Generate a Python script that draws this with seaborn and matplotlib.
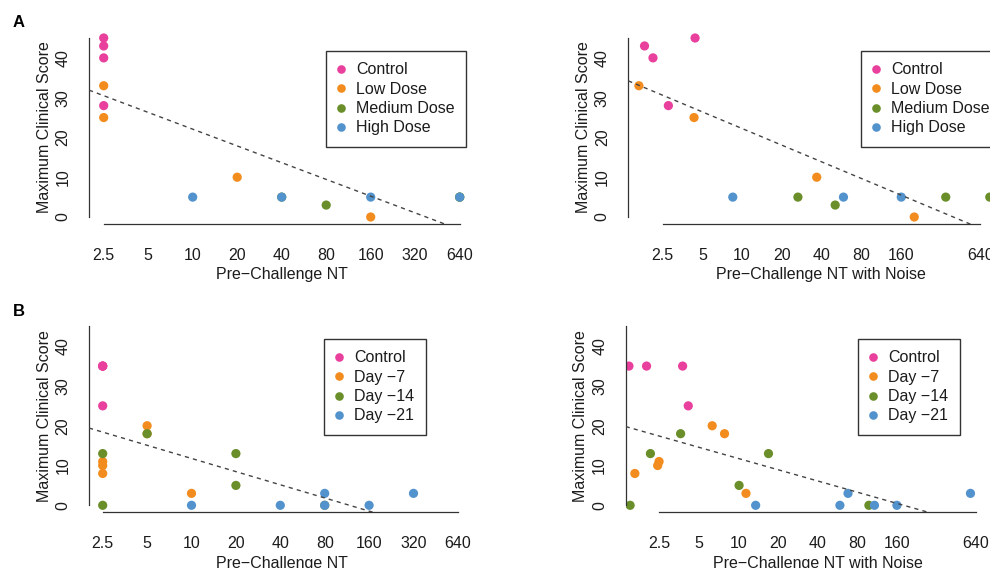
import numpy as np
import pandas as pd
import matplotlib
matplotlib.use("Agg")
import matplotlib.pyplot as plt
from matplotlib.lines import Line2D
import seaborn as sns

sns.set_style("white")
plt.rcParams["font.family"] = ["Liberation Sans", "DejaVu Sans"]

M = "\u2212"

# ---------------- Panel A data ----------------
a_groups = ["Control", "Low Dose", "Medium Dose", "High Dose"]
a_ctrl_nt = [2.5, 2.5, 2.5, 2.5]
a_ctrl_score = [45, 43, 40, 28]
a_ctrl_noise = [4.4, 1.82, 2.11, 2.76]
a_low_nt = [2.5, 2.5, 20, 160]
a_low_score = [33, 25, 10, 0]
a_low_noise = [1.65, 4.32, 36.8, 202]
a_med_nt = [80, 40, 640, 640]
a_med_score = [3, 5, 5, 5]
a_med_noise = [50.8, 26.5, 350, 755]
a_high_nt = [10, 40, 160, 640]
a_high_score = [5, 5, 5, 5]
a_high_noise = [8.5, 58.7, 161, 1000]

# ---------------- Panel B data ----------------
b_groups = ["Control", f"Day {M}7", f"Day {M}14", f"Day {M}21"]
b_ctrl_nt = [2.5, 2.5, 2.5, 2.5]
b_ctrl_score = [35, 35, 35, 25]
b_ctrl_noise = [1.47, 2.0, 3.76, 4.15]
b_d7_nt = [2.5, 2.5, 2.5, 5, 5, 10]
b_d7_score = [8, 10, 11, 20, 18, 3]
b_d7_noise = [1.63, 2.43, 2.49, 6.31, 7.83, 11.4]
b_d14_nt = [2.5, 2.5, 5, 20, 20, 80]
b_d14_score = [0, 13, 18, 5, 13, 0]
b_d14_noise = [1.50, 2.14, 3.63, 10.1, 16.9, 98]
b_d21_nt = [10, 40, 80, 80, 160, 320]
b_d21_score = [0, 0, 3, 0, 0, 3]
b_d21_noise = [13.5, 59, 68, 108, 160, 580]

# fitted trend lines: (score at NT=2.5, change per doubling of NT)
fit_a = (30.5, -4.21)
fit_a_noise = (30.6, -4.18)
fit_b = (18.4, -3.31)
fit_b_noise = (17.4, -2.82)

x_ticks = [2.5, 5, 10, 20, 40, 80, 160, 320, 640]
y_ticks = [0, 5, 10, 15, 20, 25, 30, 35, 40, 45]
y_ticklabels = ["0", "", "10", "", "20", "", "30", "", "40", ""]

colors = ["#E8409C", "#F28C1E", "#6A8E2A", "#5393CD"]


def make_df(groups, nts, scores):
    rows = []
    for g, n, s in zip(groups, nts, scores):
        for xv, yv in zip(n, s):
            rows.append((g, xv, yv))
    return pd.DataFrame(rows, columns=["group", "nt", "score"])


dfA = make_df(a_groups, [a_ctrl_nt, a_low_nt, a_med_nt, a_high_nt],
              [a_ctrl_score, a_low_score, a_med_score, a_high_score])
dfA_n = make_df(a_groups, [a_ctrl_noise, a_low_noise, a_med_noise, a_high_noise],
                [a_ctrl_score, a_low_score, a_med_score, a_high_score])
dfB = make_df(b_groups, [b_ctrl_nt, b_d7_nt, b_d14_nt, b_d21_nt],
              [b_ctrl_score, b_d7_score, b_d14_score, b_d21_score])
dfB_n = make_df(b_groups, [b_ctrl_noise, b_d7_noise, b_d14_noise, b_d21_noise],
                [b_ctrl_score, b_d7_score, b_d14_score, b_d21_score])

W, H = 990, 568
fig = plt.figure(figsize=(W / 100, H / 100), dpi=100)

FS = 11.5
TXT = "#1c1c1c"
AX = "#333333"
Y0, Y1 = -1.8, 46.8
PXU = 3.978  # pixels per score unit


def panel(df, groups, fit, xlabel, zero_y, x25, sp, left_px, right_px,
          leg_xy, drop_labels=()):
    top_px = zero_y - Y1 * PXU
    bot_px = zero_y - Y0 * PXU
    ax = fig.add_axes([left_px / W, 1 - bot_px / H,
                       (right_px - left_px) / W, (bot_px - top_px) / H])
    pal = dict(zip(groups, colors))
    sns.scatterplot(data=df, x="nt", y="score", hue="group", hue_order=groups,
                    palette=pal, s=44, linewidth=0, legend=False, ax=ax,
                    zorder=2, clip_on=True)
    ax.set_xscale("log", base=2)
    xlo = 2.5 * 2 ** ((left_px - x25) / sp)
    xhi = 2.5 * 2 ** ((right_px - x25) / sp)
    ax.set_xlim(xlo, xhi)
    ax.set_ylim(Y0, Y1)
    xs = np.geomspace(xlo, xhi, 200)
    ax.plot(xs, fit[0] + fit[1] * np.log2(xs / 2.5), color="#444444",
            lw=1.0, dashes=(3, 3), zorder=3)
    ax.set_xticks(x_ticks)
    ax.set_xticklabels(["" if t in drop_labels else (f"{t:g}") for t in x_ticks])
    ax.minorticks_off()
    ax.set_yticks(y_ticks)
    ax.set_yticklabels(y_ticklabels, rotation=90, va="center")
    ax.tick_params(axis="both", direction="out", length=6.5, width=0.9,
                   color=AX, labelsize=FS, labelcolor=TXT)
    ax.tick_params(axis="x", pad=10.5)
    ax.tick_params(axis="y", pad=6.8)
    for s in ["top", "right"]:
        ax.spines[s].set_visible(False)
    for s in ["left", "bottom"]:
        ax.spines[s].set_color(AX)
        ax.spines[s].set_linewidth(0.9)
    ax.spines["left"].set_bounds(0, 45)
    ax.spines["bottom"].set_bounds(2.5, 640)
    ax.set_xlabel(xlabel, fontsize=FS, color=TXT, labelpad=3.2)
    ax.set_ylabel("Maximum Clinical Score", fontsize=FS, color=TXT, labelpad=2.7)
    ax.grid(False)
    handles = [Line2D([], [], ls="none", marker="o", markersize=6.2,
                      markerfacecolor=c, markeredgewidth=0) for c in colors]
    leg = ax.legend(handles, groups, loc="upper left",
                    bbox_to_anchor=(leg_xy[0] / W, 1 - leg_xy[1] / H),
                    bbox_transform=fig.transFigure, borderaxespad=0,
                    fontsize=FS, frameon=True, fancybox=False, shadow=False,
                    borderpad=0.72, labelspacing=0.27, handlelength=0.4,
                    handletextpad=0.78, framealpha=1)
    for t in leg.get_texts():
        t.set_color(TXT)
    fr = leg.get_frame()
    fr.set_edgecolor(AX)
    fr.set_linewidth(1.0)
    return ax


panel(dfA, a_groups, fit_a, f"Pre{M}Challenge NT", 217, 103.7, 44.5, 89, 474,
      (326, 51))
panel(dfA_n, a_groups, fit_a_noise, f"Pre{M}Challenge NT with Noise", 217, 662.7,
      39.7, 628.3, 1013, (861, 51), drop_labels=(320,))
panel(dfB, b_groups, fit_b, f"Pre{M}Challenge NT", 505.3, 102.7, 44.4, 89, 474,
      (324, 339))
panel(dfB_n, b_groups, fit_b_noise, f"Pre{M}Challenge NT with Noise", 505.3, 659.3,
      39.6, 625.7, 1011, (858, 339), drop_labels=(320,))

fig.text(19 / W, 1 - 22.5 / H, "A", ha="center", va="center",
         fontsize=12, fontweight="bold", color="#000000")
fig.text(19 / W, 1 - 312 / H, "B", ha="center", va="center",
         fontsize=12, fontweight="bold", color="#000000")

fig.savefig("out.png", dpi=100)
